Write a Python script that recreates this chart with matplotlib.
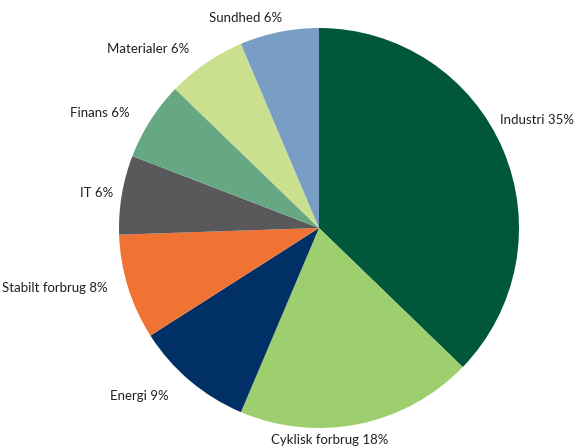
import matplotlib
matplotlib.use('Agg')
import matplotlib.pyplot as plt

# sector weights (%), clockwise from 12 o'clock
sectors = ['Industri', 'Cyklisk forbrug', 'Energi', 'Stabilt forbrug',
           'IT', 'Finans', 'Materialer', 'Sundhed']
weights = [35, 18, 9, 8, 6, 6, 6, 6]
colors = ['#01573a', '#9ecf6f', '#003066', '#f07334',
          '#59595b', '#66a883', '#cbe08f', '#789ec5']

# label placement (data coords, pie radius = 1) and alignment
label_xy = [(0.905, 0.54), (0.055, -1.06), (-0.75, -0.84), (-1.055, -0.30),
            (-1.03, 0.175), (-0.945, 0.575), (-0.65, 0.895), (-0.365, 1.05)]
label_ha = ['left', 'center', 'right', 'right',
            'right', 'right', 'right', 'center']

plt.rcParams['font.family'] = ['Lato', 'DejaVu Sans']

fig = plt.figure(figsize=(5.75, 4.48), dpi=100)
ax = fig.add_axes([0, 0, 1, 1])

labels = ['{} {}%'.format(s, w) for s, w in zip(sectors, weights)]
wedges, texts = ax.pie(weights, colors=colors, labels=labels,
                       startangle=90, counterclock=False, radius=1,
                       wedgeprops=dict(linewidth=0))

for t, xy, ha in zip(texts, label_xy, label_ha):
    t.set_position(xy)
    t.set_ha(ha)
    t.set_va('center')
    t.set_fontsize(9.5)
    t.set_color('#231f20')

ax.set_xlim(-1.595, 1.28)
ax.set_ylim(-1.10, 1.14)
ax.set_aspect('auto')
ax.axis('off')

fig.savefig('out.png', dpi=100)
